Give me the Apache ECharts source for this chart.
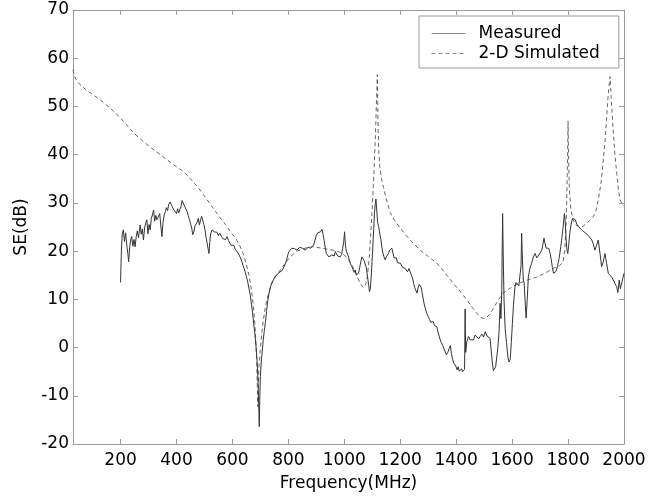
<!DOCTYPE html>
<html>
<head>
<meta charset="utf-8">
<title>SE vs Frequency</title>
<script src="https://cdn.jsdelivr.net/npm/echarts@6/dist/echarts.min.js"></script>
<style>
  html, body { margin: 0; padding: 0; background: #fff; }
  #chart { width: 670px; height: 497px; }
</style>
</head>
<body>
<div id="chart"></div>
<script>
// Shielding effectiveness: measured trace and 2-D simulation
const xTicks = [200, 400, 600, 800, 1000, 1200, 1400, 1600, 1800, 2000];

const measuredFreq = [
  200, 203, 206, 210, 214, 218, 223, 226, 229, 233, 237, 240, 244, 248, 252, 256, 260, 264, 270, 274,
  278, 282, 286, 290, 294, 298, 302, 306, 310, 314, 318, 322, 326, 330, 336, 340, 344, 348, 352, 356,
  360, 364, 368, 372, 377, 381, 385, 390, 395, 400, 404, 408, 412, 416, 420, 426, 430, 434, 438, 442,
  446, 450, 455, 458, 462, 466, 470, 474, 478, 482, 486, 490, 494, 498, 502, 506, 510, 513, 516, 519,
  522, 527, 531, 535, 540, 545, 550, 555, 560, 565, 570, 575, 581, 586, 590, 595, 600, 605, 610, 615,
  620, 625, 629, 634, 638, 642, 646, 650, 655, 660, 664, 668, 672, 676, 680, 684, 688, 691, 693, 695,
  696, 698, 700, 703, 706, 710, 714, 718, 722, 726, 730, 736, 742, 748, 754, 760, 766, 772, 778, 783,
  788, 793, 798, 803, 808, 813, 818, 822, 826, 831, 836, 840, 845, 850, 855, 861, 866, 870, 875, 879,
  884, 890, 895, 900, 905, 910, 915, 920, 924, 928, 932, 936, 940, 945, 950, 955, 960, 964, 968, 972,
  976, 980, 986, 990, 994, 998, 1001, 1004, 1007, 1010, 1014, 1018, 1022, 1027, 1031, 1035, 1039, 1043, 1047, 1051,
  1055, 1059, 1063, 1067, 1071, 1075, 1079, 1083, 1087, 1090, 1093, 1096, 1099, 1102, 1105, 1108, 1111, 1113, 1116, 1119,
  1123, 1127, 1131, 1134, 1138, 1142, 1146, 1150, 1154, 1158, 1162, 1166, 1170, 1174, 1178, 1182, 1186, 1190, 1195, 1200,
  1205, 1209, 1213, 1218, 1222, 1226, 1231, 1236, 1240, 1244, 1248, 1252, 1256, 1260, 1264, 1268, 1271, 1275, 1278, 1281,
  1285, 1290, 1295, 1300, 1305, 1309, 1313, 1318, 1322, 1327, 1331, 1335, 1339, 1343, 1347, 1352, 1356, 1361, 1365, 1370,
  1375, 1379, 1383, 1387, 1391, 1395, 1399, 1403, 1407, 1411, 1415, 1419, 1423, 1427, 1430, 1432, 1434, 1438, 1444, 1450,
  1456, 1462, 1468, 1474, 1480, 1486, 1492, 1498, 1504, 1510, 1516, 1521, 1525, 1529, 1533, 1537, 1541, 1545, 1549, 1553,
  1557, 1560, 1563, 1566, 1568, 1571, 1575, 1580, 1585, 1589, 1593, 1597, 1601, 1605, 1610, 1614, 1619, 1624, 1629, 1632,
  1634, 1637, 1640, 1643, 1647, 1650, 1654, 1658, 1664, 1670, 1676, 1682, 1688, 1694, 1700, 1706, 1710, 1714, 1718, 1722,
  1726, 1731, 1736, 1740, 1744, 1748, 1752, 1757, 1762, 1768, 1774, 1778, 1783, 1787, 1790, 1793, 1796, 1799, 1802, 1806,
  1811, 1816, 1821, 1826, 1831, 1837, 1843, 1849, 1855, 1861, 1867, 1873, 1879, 1885, 1890, 1896, 1902, 1908, 1914, 1920,
  1926, 1932, 1938, 1944, 1950, 1956, 1962, 1968, 1974, 1978, 1983, 1987, 1991, 1996, 2000
];

const measuredSE = [
  13.5, 20, 23.5, 24.4, 22, 23.8, 20.9, 19.5, 17.8, 21, 22.5, 23, 21, 22.4, 20.9, 23, 24.2, 22.8, 25.4, 23.5,
  24.6, 22.3, 24.8, 25.8, 26.5, 23.6, 25.5, 24.4, 26.8, 27.5, 28.5, 26.2, 27.4, 26.5, 26.5, 27.8, 25.2, 23, 26, 27.5,
  28.2, 29, 28.4, 29.6, 30.2, 29.8, 29.2, 28.6, 28.5, 27.8, 28.8, 27.9, 28.6, 29.2, 30.5, 30.6, 29.2, 28.8, 28.2, 27.4,
  26.6, 25.8, 24.6, 23.4, 24, 25.2, 24.8, 26, 26.8, 25.4, 26.5, 27.2, 26.8, 25.5, 24.4, 22.8, 21.5, 20.5, 19.5, 21.8,
  23.6, 24.4, 24.6, 24, 23.6, 23.9, 23.2, 23.7, 23.1, 22.6, 23, 22.4, 23, 22.2, 21.8, 21.2, 21.6, 21.2, 20.4, 20,
  19.6, 19.2, 18.6, 17.8, 17, 16.4, 15.6, 14.7, 13.5, 12, 10.8, 9, 7.2, 5, 3, 0.5, -2.5, -6, -10, -14,
  -16.4, -10, -6, -3, -1.2, 1.5, 3.5, 5.2, 7.5, 9.5, 11, 12.6, 13.6, 14.2, 14.8, 14.9, 15.5, 15.6, 16, 16.4,
  17.2, 18, 19.2, 20, 20.4, 20.6, 20.2, 20.5, 20.9, 20.2, 20.4, 20.8, 21, 20.6, 20.2, 20.2, 20.5, 20.8, 20.4, 20.6,
  20.9, 21.2, 22.2, 23.3, 23.8, 24.2, 24, 24.5, 23.5, 22.2, 20.6, 19.5, 19.2, 18.8, 18.5, 19.2, 19.6, 19, 19.9, 19.5,
  19, 19.4, 18.8, 19.3, 20.5, 22, 24, 21.2, 20, 19.9, 19, 18.2, 17.4, 16.8, 16.4, 15.6, 16.1, 15.1, 14.8, 15.4,
  16.6, 17.8, 18.8, 18.5, 18, 18.2, 16.5, 14.7, 13, 11.6, 12.2, 14.5, 17.8, 20.9, 24.5, 28, 29.9, 30.8, 28.5, 26,
  25.1, 23.5, 22.4, 20.9, 19.6, 18.8, 18.2, 18.8, 19.2, 19.5, 20.2, 20.4, 20.6, 19.6, 18.6, 18.2, 18.6, 17.6, 17.9, 17.5,
  17.8, 16.6, 17, 16.4, 16.8, 15.7, 16.4, 16.1, 15, 14.4, 13.3, 12.4, 12.2, 11.3, 12.4, 13.1, 13.3, 12.5, 11.4, 10.5,
  9.2, 8, 7.1, 6.4, 5.8, 5.2, 5, 5.4, 4.6, 4.8, 4.3, 3.2, 2.4, 1.6, 1, 0.4, -0.2, -0.6, -1.5, -1,
  -0.2, 0.4, -1.2, -2.4, -3.2, -2.8, -3.9, -4.6, -4, -4.9, -5.2, -4.4, -5, -4.8, -4.5, 8, -1, 1.2, 2.3, 1.6,
  1.2, 1.6, 2.6, 2.3, 1.8, 2.3, 2.8, 2.2, 3.3, 2.4, 2.6, 1.9, -0.5, -3, -4.8, -5.2, -4, -2, 0, 3,
  9.2, 6, 12, 27.8, 20, 10, 4, 1, -2, -3, -2.5, 1, 5, 9, 12.5, 13.5, 13.3, 12.8, 12.6, 17,
  23.7, 18, 14, 13.4, 9, 6.1, 10, 14.7, 16.5, 17.5, 18.8, 19.5, 18.6, 18.8, 19.6, 20.2, 21.4, 22.7, 21.5, 20.6,
  20.2, 20.6, 19.5, 18.2, 16.6, 15.4, 15.2, 15.8, 16.8, 18.5, 20.9, 22.8, 25.4, 27.8, 26, 22.5, 20.2, 19.5, 21, 23.7,
  25.6, 26.8, 27.1, 26.5, 25.6, 25.1, 24.8, 24.4, 24, 23.8, 23.7, 23.2, 22.8, 22.3, 21.5, 20.2, 21.2, 22.3, 19.6, 16.8,
  17.8, 19.5, 17.4, 15.4, 15, 14.6, 14, 13.2, 12.6, 11.4, 14, 12.2, 12.6, 14.4, 15.4
];

const simulatedFreq = [
  30, 36, 42, 55, 80, 100, 129, 160, 190, 220, 247, 280, 310, 340, 367, 400, 425, 450, 480, 505,
  530, 555, 575, 593, 610, 625, 638, 650, 660, 668, 675, 680, 684, 687, 689, 690.5, 692, 695, 700, 705,
  710, 718, 728, 740, 755, 771, 790, 807, 830, 850, 870, 890, 920, 950, 980, 1000, 1015, 1030, 1045, 1058,
  1068, 1076, 1083, 1089, 1094, 1099, 1103, 1107, 1110, 1113, 1115.5, 1118, 1119.5, 1121, 1123, 1127, 1133, 1140, 1150, 1164,
  1180, 1200, 1212, 1240, 1271, 1300, 1331, 1360, 1390, 1415, 1438, 1458, 1474, 1487, 1497, 1508, 1520, 1535, 1550, 1568,
  1590, 1620, 1650, 1688, 1720, 1750, 1770, 1782, 1788, 1792, 1795, 1797.5, 1800, 1802, 1805, 1810, 1818, 1830, 1843, 1855,
  1867, 1880, 1890, 1900, 1908, 1918, 1926, 1934, 1941, 1946, 1950, 1954, 1959, 1966, 1974, 1980, 1986, 1993, 2000
];

const simulatedSE = [
  57.6, 56.2, 55.5, 54.5, 53.3, 52.5, 51.3, 49.8, 48.2, 46.3, 44.5, 42.8, 41.4, 40.1, 38.9, 37.5, 36.5, 35, 33, 31,
  29, 27, 25.5, 24, 22.8, 21.3, 19.5, 17.2, 14.8, 12, 8.5, 5, 1, -3.5, -8, -12.3, -9, -4, 0, 3,
  5.5, 8.5, 11, 13.2, 14.8, 16.1, 17.6, 18.8, 20, 20.4, 20.8, 20.9, 20.6, 20.3, 19.9, 19.2, 18.2, 16.8, 14.8, 13.2,
  12.4, 13, 15, 18.5, 23, 28, 32.5, 37.5, 42, 47, 52, 56.6, 51, 45, 41, 37.5, 35, 33.2, 30.8, 28,
  26.3, 24.8, 23.9, 22, 20.2, 18.9, 17.5, 15.5, 13.3, 11.6, 9.9, 8.3, 7.1, 6.3, 6, 6.2, 6.9, 8.3, 9.8, 11.3,
  12.2, 13.2, 13.9, 14.6, 15.5, 16.5, 17, 17.8, 20, 24.5, 30, 37, 47, 39, 32.5, 28.6, 26.5, 25.3, 25, 25.2,
  25.8, 26.5, 27.1, 28.5, 30.6, 34.2, 38.9, 44, 50.6, 54, 56.2, 52, 47.2, 41, 36.1, 32.8, 30.6, 29.8, 29.3
];

const zip = (xs, ys) => xs.map((x, i) => [x, ys[i]]);

const FONT = "'DejaVu Sans', 'Liberation Sans', Arial, sans-serif";
const FONT_SIZE = 17;
const AXIS_GRAY = '#9a9a9a';

const chart = echarts.init(document.getElementById('chart'), null, { renderer: 'canvas' });

const baseX = {
  type: 'value',
  min: 30,
  max: 2000,
  splitLine: { show: false },
  axisLine: { show: true, onZero: false, lineStyle: { color: AXIS_GRAY, width: 1 } },
  axisTick: { show: true, inside: true, length: 5, customValues: xTicks, lineStyle: { color: AXIS_GRAY } }
};

const baseY = {
  type: 'value',
  min: -20,
  max: 70,
  interval: 10,
  splitLine: { show: false },
  axisLine: { show: true, onZero: false, lineStyle: { color: AXIS_GRAY, width: 1 } },
  axisTick: { show: true, inside: true, length: 5, lineStyle: { color: AXIS_GRAY } }
};

chart.setOption({
  animation: false,
  backgroundColor: '#fff',
  grid: { left: 73, top: 10, right: 46, bottom: 53, containLabel: false },
  legend: {
    orient: 'vertical',
    left: 419,
    top: 16,
    padding: [9, 19, 6, 12],
    itemGap: 3,
    itemWidth: 34,
    itemHeight: 14,
    backgroundColor: '#fff',
    borderColor: AXIS_GRAY,
    borderWidth: 1,
    borderRadius: 0,
    itemStyle: { opacity: 0 },
    lineStyle: { color: '#888', width: 1 },
    textStyle: { fontFamily: FONT, fontSize: FONT_SIZE, color: '#000', padding: [0, 0, 0, 8] },
    data: ['Measured', '2-D Simulated']
  },
  xAxis: [
    Object.assign({}, baseX, {
      position: 'bottom',
      name: 'Frequency(MHz)',
      nameLocation: 'middle',
      nameGap: 31,
      nameTextStyle: { fontFamily: FONT, fontSize: FONT_SIZE, color: '#000' },
      axisLabel: {
        show: true, customValues: xTicks, margin: 8,
        fontFamily: FONT, fontSize: FONT_SIZE, color: '#000',
        formatter: (v) => String(v)
      }
    }),
    Object.assign({}, baseX, {
      position: 'top',
      axisLabel: { show: false }
    })
  ],
  yAxis: [
    Object.assign({}, baseY, {
      position: 'left',
      name: 'SE(dB)',
      nameLocation: 'middle',
      nameGap: 42,
      nameTextStyle: { fontFamily: FONT, fontSize: FONT_SIZE, color: '#000' },
      axisLabel: { show: true, margin: 4, fontFamily: FONT, fontSize: FONT_SIZE, color: '#000' }
    }),
    Object.assign({}, baseY, {
      position: 'right',
      axisLabel: { show: false }
    })
  ],
  series: [
    {
      name: 'Measured',
      type: 'line',
      xAxisIndex: 0,
      yAxisIndex: 0,
      data: zip(measuredFreq, measuredSE),
      symbol: 'none',
      showSymbol: false,
      lineStyle: { color: '#333', width: 1 },
      itemStyle: { color: '#333' },
      z: 3
    },
    {
      name: '2-D Simulated',
      type: 'line',
      xAxisIndex: 0,
      yAxisIndex: 0,
      data: zip(simulatedFreq, simulatedSE),
      symbol: 'none',
      showSymbol: false,
      lineStyle: { color: '#555', width: 0.9, type: [4, 3] },
      itemStyle: { color: '#555' },
      z: 2
    }
  ]
});
</script>
</body>
</html>
